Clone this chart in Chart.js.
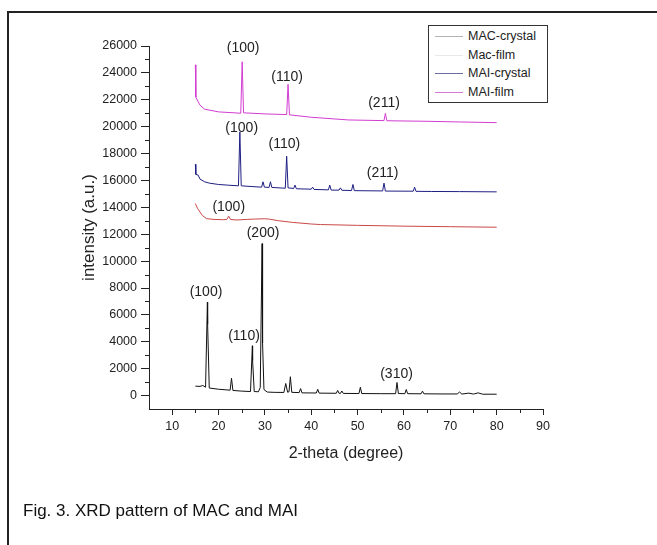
<!DOCTYPE html>
<html lang="en">
<head>
  <meta charset="UTF-8">
  <title>XRD pattern of MAC and MAI</title>
  <script src="https://cdn.jsdelivr.net/npm/chart.js@4.4.1/dist/chart.umd.min.js"></script>
  <style>
    html, body { margin: 0; padding: 0; background: #fff; overflow: hidden; }
    body { width: 657px; height: 545px; position: relative; font-family: 'Liberation Sans', Arial, sans-serif; }
    #frame { position: absolute; left: 7px; top: 11px; width: 700px; height: 600px;
             border-left: 2px solid #222; border-top: 2px solid #222; }
    #chart { position: absolute; left: 0; top: 0; }
    #legend { position: absolute; left: 428px; top: 25px; width: 118px; height: 75px;
              border: 1px solid #333; background: #fff; padding-top: 1px; font-size: 12.5px; color: #222; }
    #legend div { height: 18.5px; line-height: 18.5px; white-space: nowrap; }
    #legend span.ln { display: inline-block; width: 28px; height: 0; border-top: 1px solid; margin: 0 5px 0 6px; vertical-align: middle; }
    #caption { position: absolute; left: 23px; top: 501px; font-size: 17px; color: #111; }
  </style>
</head>
<body>
  <div id="frame"></div>
  <canvas id="chart" width="657" height="545"></canvas>
  <div id="legend">
    <div><span class="ln" style="border-color:#b4b4b4"></span>MAC-crystal</div>
    <div><span class="ln" style="border-color:#e8e8e8"></span>Mac-film</div>
    <div><span class="ln" style="border-color:#6c6c9e"></span>MAI-crystal</div>
    <div><span class="ln" style="border-color:#d47ad4"></span>MAI-film</div>
  </div>
  <div id="caption">Fig. 3. XRD pattern of MAC and MAI</div>

  <script>
    // 2-theta / intensity pairs
    const macCrystalX = [15, 16, 16.6, 17.2, 17.6, 17.65, 18.0, 20, 22.5, 22.8, 23.1, 25, 26.9, 27.3, 27.35, 27.7, 28.6, 29.0, 29.4, 29.5, 29.8, 30.5, 32, 34.1, 34.5, 34.9, 35.2, 35.5, 35.8, 37.4, 37.7, 38, 41.1, 41.4, 41.7, 45.4, 45.7, 46, 46.3, 46.6, 46.9, 50.3, 50.6, 50.9, 55, 58.2, 58.5, 58.8, 60.2, 60.5, 60.8, 63.7, 64, 64.3, 68, 71.5, 72, 72.5, 74, 75, 76, 77, 80];
    const macCrystalY = [700, 680, 750, 620, 6950, 5300, 560, 470, 400, 1290, 380, 330, 300, 3700, 2600, 300, 280, 600, 11300, 3900, 450, 260, 240, 230, 900, 250, 280, 1400, 240, 220, 520, 200, 190, 470, 180, 170, 380, 170, 160, 340, 160, 150, 620, 150, 140, 140, 970, 150, 140, 450, 140, 130, 330, 130, 120, 120, 260, 110, 180, 110, 200, 100, 100];

    const macFilmX = [15, 15.5, 16.5, 17.4, 19, 21, 21.8, 22.2, 22.6, 24, 26, 28, 30, 31, 33, 36, 40, 42, 50, 60, 70, 80];
    const macFilmY = [14280, 13900, 13400, 13160, 13100, 13080, 13100, 13340, 13090, 13060, 13100, 13130, 13150, 13120, 13000, 12880, 12760, 12720, 12660, 12600, 12560, 12520];

    const maiCrystalX = [15, 15.1, 15.6, 16, 17, 18, 20, 22, 24.3, 24.6, 24.9, 27, 29.3, 29.6, 29.9, 30.9, 31.2, 31.5, 34.4, 34.7, 35.0, 36.2, 36.5, 36.8, 40, 40.3, 40.6, 43.7, 44, 44.3, 46, 46.3, 46.6, 48.7, 49, 49.3, 55.4, 55.7, 56, 62, 62.3, 62.6, 66, 72, 80];
    const maiCrystalY = [17200, 16450, 16400, 16100, 15900, 15800, 15700, 15650, 15600, 19600, 15600, 15550, 15500, 15900, 15500, 15480, 15900, 15480, 15420, 17800, 15450, 15400, 15650, 15380, 15350, 15500, 15330, 15300, 15650, 15280, 15280, 15450, 15270, 15250, 15700, 15240, 15220, 15800, 15210, 15200, 15500, 15190, 15180, 15170, 15150];

    const maiFilmX = [15, 15.1, 16, 17, 20, 24.8, 25.1, 25.4, 30, 34.7, 35.0, 35.3, 40, 48, 55.7, 56, 56.3, 65, 72, 80];
    const maiFilmY = [24600, 22200, 21600, 21300, 21100, 21000, 24830, 21030, 20950, 20900, 23150, 20880, 20700, 20500, 20450, 20990, 20440, 20400, 20350, 20300];

    // peak (hkl) labels
    const peakText = ['(100)', '(110)', '(211)', '(100)', '(110)', '(211)', '(100)', '(200)', '(100)', '(110)', '(310)'];
    const peakX = [25.3, 34.8, 55.7, 25.0, 34.2, 55.4, 22.2, 29.6, 17.3, 25.5, 58.4];
    const peakY = [25830, 23710, 21780, 19870, 18680, 16560, 13980, 12090, 7700, 4400, 1620];

    const xMinorTicks = [15, 25, 35, 45, 55, 65, 75, 85];
    const yMinorTicks = [1000, 3000, 5000, 7000, 9000, 11000, 13000, 15000, 17000, 19000, 21000, 23000, 25000];

    const FONT = "'Liberation Sans', Arial, sans-serif";
    const pts = (xs, ys) => xs.map((x, i) => ({ x: x, y: ys[i] }));

    const minorTicks = {
      id: 'minorTicks',
      afterDraw(chart) {
        const { ctx, scales: { x, y } } = chart;
        ctx.save();
        ctx.strokeStyle = '#222';
        ctx.lineWidth = 1;
        ctx.beginPath();
        xMinorTicks.forEach(v => {
          const px = Math.round(x.getPixelForValue(v)) + 0.5;
          ctx.moveTo(px, x.top);
          ctx.lineTo(px, x.top + 4);
        });
        yMinorTicks.forEach(v => {
          const py = Math.round(y.getPixelForValue(v)) + 0.5;
          ctx.moveTo(y.right, py);
          ctx.lineTo(y.right - 4, py);
        });
        ctx.stroke();
        ctx.restore();
      }
    };

    const peakLabels = {
      id: 'peakLabels',
      afterDatasetsDraw(chart) {
        const { ctx, scales: { x, y } } = chart;
        ctx.save();
        ctx.font = '14px ' + FONT;
        ctx.fillStyle = '#222';
        ctx.textAlign = 'center';
        ctx.textBaseline = 'middle';
        peakText.forEach((t, i) => {
          ctx.fillText(t, x.getPixelForValue(peakX[i]), y.getPixelForValue(peakY[i]));
        });
        ctx.restore();
      }
    };

    new Chart(document.getElementById('chart'), {
      type: 'line',
      data: {
        datasets: [
          { label: 'MAC-crystal', data: pts(macCrystalX, macCrystalY), borderColor: '#111', borderWidth: 1 },
          { label: 'Mac-film', data: pts(macFilmX, macFilmY), borderColor: '#c94848', borderWidth: 1 },
          { label: 'MAI-crystal', data: pts(maiCrystalX, maiCrystalY), borderColor: '#1e1e84', borderWidth: 1 },
          { label: 'MAI-film', data: pts(maiFilmX, maiFilmY), borderColor: '#d23cd2', borderWidth: 1 }
        ]
      },
      options: {
        responsive: false,
        animation: false,
        events: [],
        elements: { point: { radius: 0 }, line: { tension: 0 } },
        layout: { padding: { left: 70, top: 46, right: 114, bottom: 82 } },
        plugins: { legend: { display: false }, tooltip: { enabled: false } },
        scales: {
          x: {
            type: 'linear',
            min: 5,
            max: 90,
            afterFit: s => { s.height = 54; },
            border: { color: '#222', width: 1 },
            grid: {
              drawOnChartArea: false,
              tickLength: 6,
              tickColor: c => (c.tick && c.tick.value % 10 === 0) ? '#222' : 'rgba(0,0,0,0)'
            },
            ticks: {
              stepSize: 5,
              autoSkip: false,
              maxRotation: 0,
              padding: 4,
              color: '#222',
              font: { family: FONT, size: 12.5 },
              callback: v => v % 10 === 0 ? v : ''
            },
            title: {
              display: true,
              text: '2-theta (degree)',
              color: '#222',
              font: { family: FONT, size: 16 },
              padding: { top: 0, bottom: 0 }
            }
          },
          y: {
            min: -1000,
            max: 26000,
            afterFit: s => { s.width = 79; },
            border: { color: '#222', width: 1 },
            grid: {
              drawOnChartArea: false,
              tickLength: 8,
              tickColor: c => (c.tick && c.tick.value >= 0 && c.tick.value % 2000 === 0) ? '#222' : 'rgba(0,0,0,0)'
            },
            ticks: {
              stepSize: 1000,
              autoSkip: false,
              padding: 4,
              color: '#222',
              font: { family: FONT, size: 12.5 },
              callback: v => (v >= 0 && v % 2000 === 0) ? v : ''
            },
            title: {
              display: true,
              text: 'intensity (a.u.)',
              color: '#222',
              font: { family: FONT, size: 17 },
              padding: { top: 9, bottom: 0 }
            }
          }
        }
      },
      plugins: [minorTicks, peakLabels]
    });
  </script>
</body>
</html>
